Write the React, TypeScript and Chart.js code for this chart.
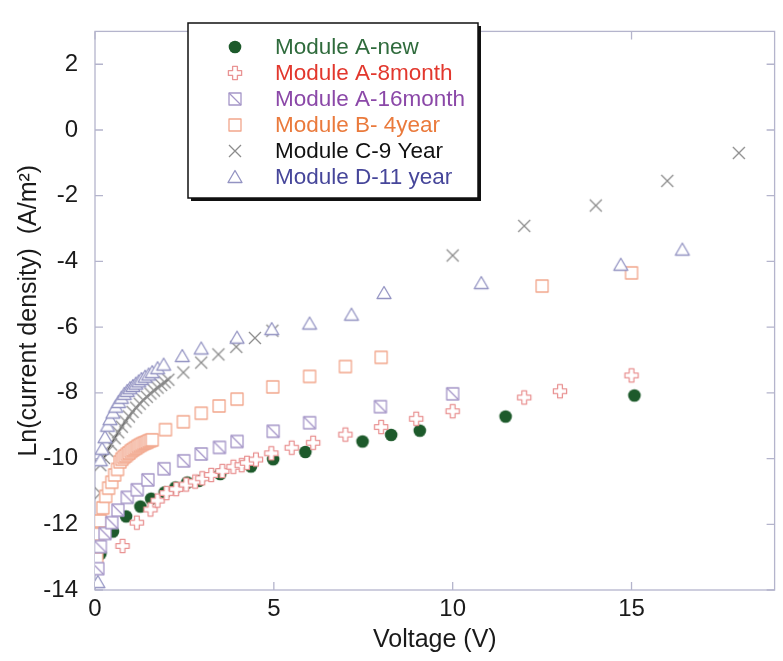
import React, { useEffect, useRef } from "react";
import { Chart, registerables } from "chart.js";
Chart.register(...registerables);

// ---- axis ticks ----
const xTicks = [0, 5, 10, 15];
const yTicks = [-14, -12, -10, -8, -6, -4, -2, 0, 2];

// ---- legend names ----
const seriesNames = [
  "Module A-new",
  "Module A-8month",
  "Module A-16month",
  "Module B- 4year",
  "Module C-9 Year",
  "Module D-11 year",
];

// ---- Module A-new ----
const aNewX = [0.15, 0.5, 0.87, 1.27, 1.57, 1.95, 2.25, 2.58, 2.9, 3.5, 4.36, 4.98, 5.88, 7.48, 8.28, 9.08, 11.48, 15.08];
const aNewY = [-12.9, -12.22, -11.76, -11.46, -11.22, -11.03, -10.88, -10.73, -10.68, -10.47, -10.24, -10.02, -9.8, -9.48, -9.28, -9.15, -8.72, -8.08];

// ---- Module A-8month ----
const a8X = [0.77, 1.17, 1.55, 1.75, 2.0, 2.27, 2.55, 2.8, 3.0, 3.25, 3.56, 3.87, 4.1, 4.25, 4.5, 4.93, 5.5, 6.1, 7.0, 8.0, 8.98, 10.0, 12.0, 13.0, 15.0];
const a8Y = [-12.66, -11.95, -11.55, -11.28, -11.05, -10.93, -10.79, -10.7, -10.6, -10.5, -10.38, -10.25, -10.2, -10.13, -10.03, -9.84, -9.67, -9.52, -9.27, -9.04, -8.79, -8.56, -8.14, -7.95, -7.47];

// ---- Module A-16month ----
const a16X = [0.08, 0.15, 0.28, 0.47, 0.64, 0.9, 1.18, 1.48, 1.93, 2.48, 2.97, 3.48, 3.97, 4.98, 6.0, 7.98, 10.0];
const a16Y = [-13.35, -12.68, -12.28, -11.95, -11.57, -11.18, -10.95, -10.65, -10.31, -10.07, -9.86, -9.66, -9.48, -9.17, -8.91, -8.42, -8.03];

// ---- Module B- 4year ----
const bX = [0.05, 0.08, 0.15, 0.22, 0.3, 0.38, 0.47, 0.55, 0.63, 0.7, 0.75, 0.8, 0.85, 0.9, 0.95, 1.0, 1.05, 1.1, 1.15, 1.2, 1.25, 1.3, 1.35, 1.4, 1.45, 1.5, 1.55, 1.6, 1.97, 2.47, 2.97, 3.47, 3.97, 4.97, 6.0, 7.0, 8.0, 12.5, 15.0];
const bY = [-13.05, -12.3, -11.9, -11.5, -11.15, -10.9, -10.72, -10.5, -10.33, -10.1, -10.02, -9.96, -9.92, -9.87, -9.83, -9.78, -9.74, -9.7, -9.67, -9.63, -9.6, -9.57, -9.54, -9.52, -9.5, -9.47, -9.45, -9.43, -9.12, -8.88, -8.62, -8.4, -8.19, -7.82, -7.5, -7.2, -6.92, -4.75, -4.35];

// ---- Module C-9 Year (sparse points) ----
const cX = [0.15, 0.15, 2.47, 2.97, 3.45, 3.95, 4.47, 4.96, 10.0, 12.0, 14.0, 16.0, 18.0];
const cY = [-10.2, -11.05, -7.38, -7.08, -6.83, -6.6, -6.33, -6.11, -3.82, -2.92, -2.3, -1.55, -0.7];
// ---- Module C-9 Year (dense low-voltage sweep) ----
const cDenseX = [0.25, 0.35, 0.45, 0.55, 0.65, 0.75, 0.85, 0.95, 1.05, 1.15, 1.25, 1.35, 1.45, 1.55, 1.65, 1.75, 1.85, 1.95, 2.05];
const cDenseY = [-9.98, -9.77, -9.57, -9.38, -9.2, -9.03, -8.87, -8.72, -8.58, -8.45, -8.33, -8.22, -8.12, -8.02, -7.93, -7.84, -7.76, -7.68, -7.6];

// ---- Module D-11 year ----
const dX = [0.08, 0.15, 0.2, 0.28, 0.35, 0.42, 0.5, 0.58, 0.66, 0.74, 0.82, 0.9, 0.98, 1.06, 1.14, 1.22, 1.3, 1.4, 1.5, 1.6, 1.75, 1.92, 2.44, 2.97, 3.97, 4.94, 6.0, 7.17, 8.08, 10.8, 14.7, 16.42];
const dY = [-13.76, -10.05, -9.7, -9.35, -9.0, -8.8, -8.6, -8.42, -8.28, -8.15, -8.03, -7.94, -7.86, -7.79, -7.72, -7.65, -7.58, -7.51, -7.44, -7.37, -7.25, -7.14, -6.88, -6.65, -6.32, -6.06, -5.89, -5.62, -4.96, -4.66, -4.1, -3.64];

const FONT = "'Liberation Sans', Arial, Helvetica, sans-serif";

const markerColors = ["#1d5a2b", "#e99494", "#a596c8", "#f2a68c", "#8c8c8c", "#9393c2"];
const textColors = ["#2f6b3c", "#e2372d", "#8b48a8", "#ea7a3c", "#111111", "#46469a"];
const kinds = ["dot", "plus", "sqdiag", "square", "x", "tri"];

function makeMarker(kind: string, color: string): HTMLCanvasElement {
  const s = 18;
  const c = document.createElement("canvas");
  c.width = s;
  c.height = s;
  const ctx = c.getContext("2d")!;
  const m = s / 2;
  ctx.strokeStyle = color;
  ctx.lineWidth = 1.3;
  ctx.lineJoin = "round";
  ctx.fillStyle = "#ffffff";
  if (kind === "dot") {
    ctx.fillStyle = color;
    ctx.beginPath();
    ctx.arc(m, m, 6.3, 0, Math.PI * 2);
    ctx.fill();
  } else if (kind === "plus") {
    const a = 2.4, b = 6.6;
    const pts = [
      [m - a, m - b], [m + a, m - b], [m + a, m - a], [m + b, m - a], [m + b, m + a], [m + a, m + a],
      [m + a, m + b], [m - a, m + b], [m - a, m + a], [m - b, m + a], [m - b, m - a], [m - a, m - a],
    ];
    ctx.beginPath();
    pts.forEach((p, i) => (i === 0 ? ctx.moveTo(p[0], p[1]) : ctx.lineTo(p[0], p[1])));
    ctx.closePath();
    ctx.fill();
    ctx.stroke();
  } else if (kind === "sqdiag") {
    ctx.beginPath();
    ctx.rect(m - 6, m - 6, 12, 12);
    ctx.fill();
    ctx.stroke();
    ctx.beginPath();
    ctx.moveTo(m - 6, m - 6);
    ctx.lineTo(m + 6, m + 6);
    ctx.stroke();
  } else if (kind === "square") {
    ctx.beginPath();
    ctx.rect(m - 6, m - 6, 12, 12);
    ctx.fill();
    ctx.stroke();
  } else if (kind === "x") {
    ctx.beginPath();
    ctx.moveTo(m - 6, m - 6);
    ctx.lineTo(m + 6, m + 6);
    ctx.moveTo(m + 6, m - 6);
    ctx.lineTo(m - 6, m + 6);
    ctx.stroke();
  } else if (kind === "tri") {
    ctx.beginPath();
    ctx.moveTo(m, m - 6.5);
    ctx.lineTo(m + 7, m + 5.5);
    ctx.lineTo(m - 7, m + 5.5);
    ctx.closePath();
    ctx.fill();
    ctx.stroke();
  }
  return c;
}

const toPts = (xs: number[], ys: number[]) => xs.map((x, i) => ({ x, y: ys[i] }));

export default function App() {
  const ref = useRef<HTMLCanvasElement | null>(null);

  useEffect(() => {
    if (!ref.current) return;
    const markers = kinds.map((k, i) => makeMarker(k, markerColors[i]));

    const ds = (label: string, xs: number[], ys: number[], idx: number, order: number, extra: any = {}) => ({
      label,
      data: toPts(xs, ys),
      pointStyle: markers[idx],
      pointRadius: 7,
      showLine: false,
      order,
      ...extra,
    });

    const framePlugin = {
      id: "frameTicks",
      beforeDatasetsDraw(chart: any) {
        const { ctx, chartArea, scales } = chart;
        const { left, right, top, bottom } = chartArea;
        ctx.save();
        ctx.strokeStyle = "#b4b4cc";
        ctx.lineWidth = 1.3;
        ctx.strokeRect(left, top, right - left, bottom - top);
        const tl = 8;
        ctx.beginPath();
        xTicks.forEach((v) => {
          const px = scales.x.getPixelForValue(v);
          ctx.moveTo(px, bottom);
          ctx.lineTo(px, bottom - tl);
          ctx.moveTo(px, top);
          ctx.lineTo(px, top + tl);
        });
        yTicks.forEach((v) => {
          const py = scales.y.getPixelForValue(v);
          ctx.moveTo(left, py);
          ctx.lineTo(left + tl, py);
          ctx.moveTo(right, py);
          ctx.lineTo(right - tl, py);
        });
        ctx.stroke();
        ctx.restore();
      },
    };

    const legendPlugin = {
      id: "boxLegend",
      afterDatasetsDraw(chart: any) {
        const ctx = chart.ctx;
        const bx = 188, by = 23, bw = 290, bh = 175;
        ctx.save();
        ctx.fillStyle = "#111";
        ctx.fillRect(bx + 3, by + 3, bw, bh);
        ctx.fillStyle = "#fff";
        ctx.fillRect(bx, by, bw, bh);
        ctx.strokeStyle = "#111";
        ctx.lineWidth = 1.5;
        ctx.strokeRect(bx, by, bw, bh);
        ctx.font = `22.5px ${FONT}`;
        ctx.textBaseline = "middle";
        ctx.textAlign = "left";
        seriesNames.forEach((name, i) => {
          const cy = by + 24 + i * 26;
          const mk = markers[i];
          ctx.drawImage(mk, 235 - mk.width / 2, cy - mk.height / 2);
          ctx.fillStyle = textColors[i];
          ctx.fillText(name, 275, cy + 1);
        });
        ctx.restore();
      },
    };

    const tickFont = { family: FONT, size: 24 };
    const titleFont = { family: FONT, size: 25 };

    const chart = new Chart(ref.current, {
      type: "scatter",
      data: {
        datasets: [
          ds(seriesNames[0], aNewX, aNewY, 0, 6),
          ds(seriesNames[1], a8X, a8Y, 1, 2),
          ds(seriesNames[2], a16X, a16Y, 2, 3),
          ds(seriesNames[3], bX, bY, 3, 4),
          ds(seriesNames[4], cX, cY, 4, 5),
          ds(seriesNames[4] + " sweep", cDenseX, cDenseY, 4, 5, {
            showLine: true,
            borderColor: "#2e2e2e",
            borderWidth: 1.4,
            tension: 0.3,
          }),
          ds(seriesNames[5], dX, dY, 5, 1),
        ],
      },
      options: {
        animation: false,
        responsive: true,
        maintainAspectRatio: false,
        layout: { padding: { top: 7, right: 5, left: 0, bottom: 0 } },
        plugins: { legend: { display: false }, tooltip: { enabled: false } },
        scales: {
          x: {
            type: "linear",
            min: 0,
            max: 19,
            afterBuildTicks: (s: any) => {
              s.ticks = xTicks.map((v) => ({ value: v }));
            },
            afterFit: (s: any) => {
              s.height = 71;
            },
            grid: { display: false, drawTicks: false },
            border: { display: false },
            ticks: {
              font: tickFont,
              color: "#1a1a1a",
              padding: 5,
              maxRotation: 0,
              autoSkip: false,
              callback: (v: any) => String(v),
            },
            title: {
              display: true,
              text: "Voltage (V)",
              font: titleFont,
              color: "#1a1a1a",
              padding: { top: 0, bottom: 6 },
            },
          },
          y: {
            type: "linear",
            min: -14,
            max: 3,
            afterBuildTicks: (s: any) => {
              s.ticks = yTicks.map((v) => ({ value: v }));
            },
            afterFit: (s: any) => {
              s.width = 95;
            },
            grid: { display: false, drawTicks: false },
            border: { display: false },
            ticks: {
              font: tickFont,
              color: "#1a1a1a",
              padding: 17,
              autoSkip: false,
              callback: (v: any) => String(v),
            },
            title: {
              display: true,
              text: "Ln(current density)  (A/m\u00B2)",
              font: titleFont,
              color: "#1a1a1a",
              padding: { top: 14, bottom: 0 },
            },
          },
        },
      },
      plugins: [framePlugin, legendPlugin],
    });
    return () => chart.destroy();
  }, []);

  return (
    <div style={{ position: "fixed", left: 0, top: 0, width: 783, height: 661, background: "#fff" }}>
      <canvas ref={ref} />
    </div>
  );
}
